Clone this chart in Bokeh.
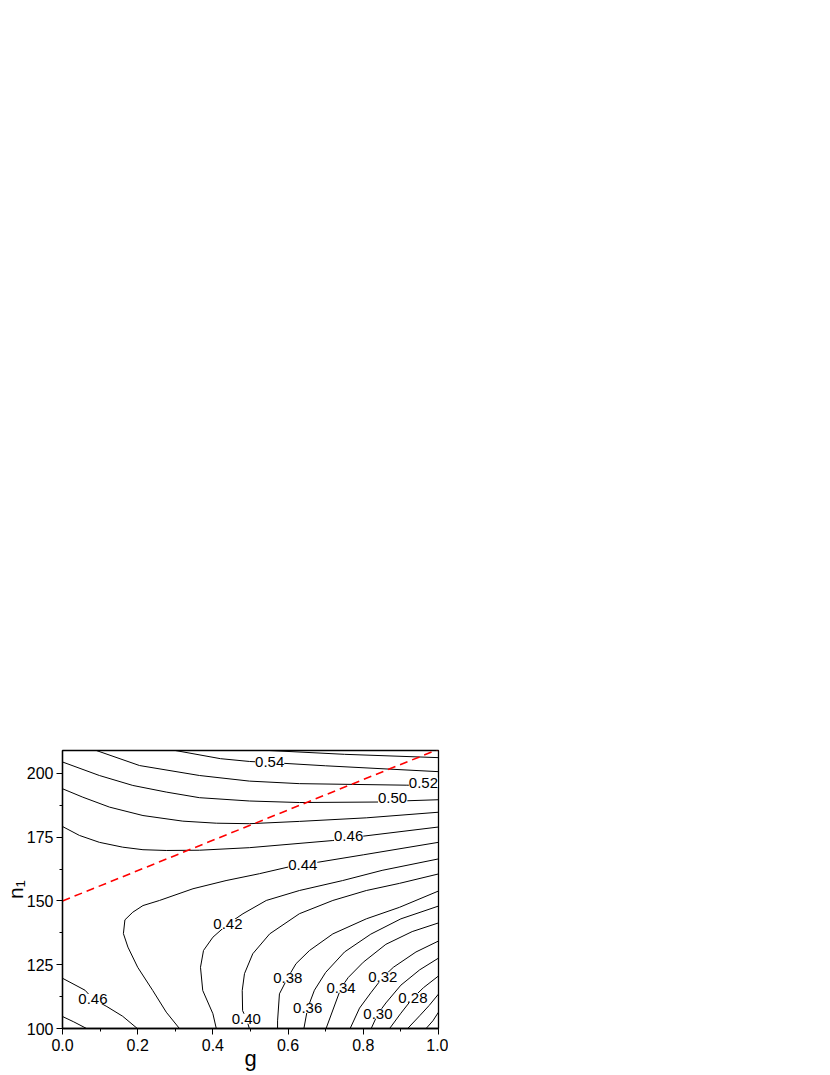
from bokeh.plotting import figure
from bokeh.models import (Range1d, SingleIntervalTicker, NumeralTickFormatter,
                          ColumnDataSource, LabelSet)
from bokeh.core.properties import value
from bokeh.embed import file_html
from bokeh.resources import INLINE

# ---- contour lines (g, n1) ----
c048_low_g = [0.0, 0.03, 0.064]
c048_low_n = [104.7, 102.6, 100.0]
c046_low_g = [0.0, 0.06, 0.081, 0.118, 0.16, 0.199]
c046_low_n = [119.7, 115.0, 111.6, 108.6, 104.8, 100.0]
c044_g = [0.311, 0.276, 0.240, 0.200, 0.174, 0.162, 0.166, 0.187, 0.214, 0.258,
          0.347, 0.435, 0.524, 0.600, 0.639, 0.680, 0.800, 1.0]
c044_n = [100.0, 106.4, 114.9, 124.0, 131.9, 137.2, 142.6, 145.6, 148.2, 150.2,
          154.8, 158.0, 160.7, 163.3, 164.3, 165.2, 168.1, 173.0]
c046_up_g = [0.0, 0.045, 0.098, 0.160, 0.214, 0.276, 0.364, 0.497, 0.719, 0.761, 0.799, 1.0]
c046_up_n = [179.2, 175.7, 173.0, 171.1, 170.1, 169.8, 169.9, 170.9, 173.7, 174.6, 175.4, 179.0]
c048_up_g = [0.0, 0.054, 0.125, 0.214, 0.320, 0.409, 0.497, 0.630, 0.808, 1.0]
c048_up_n = [194.0, 190.7, 186.8, 183.5, 181.3, 180.5, 180.3, 181.2, 182.6, 184.8]
c050_g = [0.0, 0.098, 0.187, 0.276, 0.364, 0.497, 0.630, 0.843, 0.918, 1.0]
c050_n = [204.5, 199.2, 195.3, 192.7, 190.5, 189.2, 188.6, 188.8, 189.3, 189.7]
c052_g = [0.090, 0.205, 0.364, 0.497, 0.630, 0.914, 1.0]
c052_n = [209.0, 203.1, 199.2, 197.0, 196.0, 195.4, 195.3]
c054_g = [0.300, 0.420, 0.497, 0.551, 0.700, 1.0]
c054_n = [209.0, 205.8, 204.7, 204.3, 203.0, 200.7]
c056_g = [0.550, 0.750, 1.0]
c056_n = [209.0, 207.5, 206.2]
c042_g = [0.409, 0.400, 0.373, 0.367, 0.375, 0.400, 0.440, 0.480, 0.542, 0.630, 0.745, 0.850, 1.0]
c042_n = [100.0, 105.8, 114.9, 124.0, 130.6, 135.8, 141.0, 145.0, 150.2, 154.1, 158.0, 162.0, 166.5]
c040_g = [0.497, 0.489, 0.479, 0.478, 0.484, 0.506, 0.551, 0.630, 0.719, 0.808, 0.896, 1.0]
c040_n = [100.0, 103.8, 107.0, 114.9, 121.5, 129.3, 137.1, 145.0, 150.2, 154.1, 156.9, 160.6]
c038_g = [0.572, 0.572, 0.577, 0.599, 0.621, 0.657, 0.719, 0.808, 0.896, 1.0]
c038_n = [100.0, 103.0, 113.6, 119.9, 125.4, 130.6, 137.1, 143.0, 147.5, 153.9]
c036_g = [0.642, 0.652, 0.670, 0.700, 0.750, 0.820, 0.900, 1.0]
c036_n = [100.0, 108.0, 115.0, 122.0, 130.0, 137.0, 143.0, 148.0]
c034_g = [0.701, 0.741, 0.760, 0.800, 0.860, 0.930, 1.0]
c034_n = [100.0, 116.0, 120.0, 126.0, 133.0, 138.0, 141.4]
c032_g = [0.765, 0.790, 0.820, 0.852, 0.880, 0.940, 1.0]
c032_n = [100.0, 108.0, 114.0, 120.1, 124.0, 130.0, 134.3]
c030_g = [0.821, 0.839, 0.860, 0.900, 0.950, 1.0]
c030_n = [100.0, 105.8, 110.0, 117.0, 123.0, 127.6]
c028_g = [0.870, 0.900, 0.932, 0.960, 1.0]
c028_n = [100.0, 106.0, 112.0, 116.0, 120.6]
c026_g = [0.918, 0.950, 0.975, 1.0]
c026_n = [100.0, 105.0, 109.0, 113.5]
c024_g = [0.967, 0.985, 1.0]
c024_n = [100.0, 103.0, 106.4]

# ---- contour labels ----
label_text = ["0.54", "0.52", "0.50", "0.46", "0.44", "0.42", "0.46", "0.40",
              "0.38", "0.36", "0.34", "0.32", "0.30", "0.28"]
label_g = [0.551, 0.960, 0.878, 0.761, 0.639, 0.440, 0.081, 0.489,
           0.599, 0.652, 0.741, 0.852, 0.839, 0.932]
label_n = [204.5, 196.4, 190.4, 175.3, 164.3, 141.0, 111.6, 103.8,
           119.9, 108.0, 116.0, 120.1, 105.8, 112.0]

# ---- red dashed line ----
red_g = [0.0, 1.0]
red_n = [150.0, 209.5]

x_ticks_interval = 0.2
y_ticks_interval = 25

p = figure(output_backend="svg", toolbar_location=None,
           frame_width=376, frame_height=278,
           min_border_left=55, min_border_right=10,
           min_border_top=750, min_border_bottom=40,
           x_range=Range1d(0, 1), y_range=Range1d(100, 209))
p.background_fill_color = "white"
p.border_fill_color = "white"
p.outline_line_color = "black"
p.outline_line_width = 1.3
p.xgrid.visible = False
p.ygrid.visible = False

xs = [c048_low_g, c046_low_g, c044_g, c046_up_g, c048_up_g, c050_g, c052_g, c054_g,
      c056_g, c042_g, c040_g, c038_g, c036_g, c034_g, c032_g, c030_g, c028_g,
      c026_g, c024_g]
ys = [c048_low_n, c046_low_n, c044_n, c046_up_n, c048_up_n, c050_n, c052_n, c054_n,
      c056_n, c042_n, c040_n, c038_n, c036_n, c034_n, c032_n, c030_n, c028_n,
      c026_n, c024_n]
p.multi_line(xs, ys, line_color="black", line_width=1)

p.line(red_g, red_n, line_color="#ff0000", line_width=1.6, line_dash="8 5")

src = ColumnDataSource(dict(x=label_g, y=label_n, t=label_text))
labels = LabelSet(x="x", y="y", text="t", source=src, text_align="center",
                  text_baseline="middle", text_font=value("Liberation Sans"),
                  text_font_size="15px", text_color="black",
                  background_fill_color="white", background_fill_alpha=1.0)
p.add_layout(labels)

for ax in (p.xaxis[0], p.yaxis[0]):
    ax.axis_line_color = "black"
    ax.axis_line_width = 1.3
    ax.major_tick_line_color = "black"
    ax.minor_tick_line_color = "black"
    ax.major_tick_out = 6
    ax.major_tick_in = 0
    ax.minor_tick_out = 3
    ax.minor_tick_in = 0
    ax.major_label_text_font = "Liberation Sans"
    ax.major_label_text_font_size = "16px"
    ax.major_label_text_color = "black"
    ax.axis_label_text_font = "Liberation Sans"
    ax.axis_label_text_font_style = "normal"
    ax.axis_label_text_color = "black"

p.xaxis.ticker = SingleIntervalTicker(interval=x_ticks_interval, num_minor_ticks=2)
p.yaxis.ticker = SingleIntervalTicker(interval=y_ticks_interval, num_minor_ticks=2)
p.xaxis.formatter = NumeralTickFormatter(format="0.0")
p.xaxis.major_label_standoff = 4
p.yaxis.major_label_standoff = 3
p.xaxis.axis_label = "g"
p.yaxis.axis_label = "n\u2081"
p.xaxis.axis_label_text_font_size = "22px"
p.yaxis.axis_label_text_font_size = "21px"
p.xaxis.axis_label_standoff = -8
p.yaxis.axis_label_standoff = -3

open("out.html", "w").write(file_html(p, INLINE))
